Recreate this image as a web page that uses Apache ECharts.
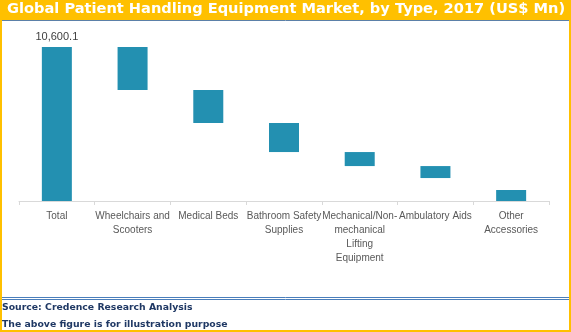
<!DOCTYPE html>
<html>
<head>
<meta charset="utf-8">
<script src="https://cdn.jsdelivr.net/npm/echarts@6/dist/echarts.min.js"></script>
<style>
html,body{margin:0;padding:0;background:#fff;}
#chart{width:571px;height:332px;}
</style>
</head>
<body>
<div id="chart"></div>
<script>
// ---- data ----
var titleText = 'Global Patient Handling Equipment Market, by Type, 2017 (US$ Mn)';
var categories = ['Total', 'Wheelchairs and\nScooters', 'Medical Beds', 'Bathroom Safety\nSupplies', 'Mechanical/Non-\nmechanical\nLifting\nEquipment', 'Ambulatory Aids', 'Other\nAccessories'];
var barValues = [10600.1, 2960, 2270, 2000, 965, 825, 757];   // visible height of each bar
var barBases  = [0, 7640, 5370, 3370, 2405, 1580, 0];          // invisible floor under each bar
var footerLines = ['Source: Credence Research Analysis', 'The above figure is for illustration purpose'];

var chart = echarts.init(document.getElementById('chart'), null, {renderer: 'canvas'});

var fmt = function (v) {
  return Number(v).toLocaleString('en-US', {minimumFractionDigits: 1, maximumFractionDigits: 1});
};

var valueData = barValues.map(function (v, i) {
  if (i === 0) {
    return {value: v, label: {show: true}};
  }
  return v;
});

var option = {
  animation: false,
  backgroundColor: '#ffffff',
  title: {
    text: titleText,
    left: 2,
    top: -3.5,
    textStyle: {
      fontFamily: 'DejaVu Sans',
      fontWeight: 'bold',
      fontSize: 14.6,
      color: '#ffffff'
    }
  },
  grid: {left: 19, right: 22, top: 26.7, bottom: 131, containLabel: false},
  xAxis: {
    type: 'category',
    data: categories,
    axisLine: {show: true, lineStyle: {color: '#D9D9D9', width: 1}},
    axisTick: {show: true, length: 4, lineStyle: {color: '#D9D9D9'}},
    axisLabel: {
      interval: 0,
      fontFamily: 'Liberation Sans',
      fontSize: 10,
      lineHeight: 14,
      color: '#595959',
      margin: 8
    }
  },
  yAxis: {
    type: 'value',
    min: 0,
    max: 12000,
    show: false,
    splitLine: {show: false}
  },
  series: [
    {
      type: 'bar',
      stack: 'wf',
      data: barBases,
      barWidth: 30,
      itemStyle: {color: 'rgba(0,0,0,0)'},
      emphasis: {disabled: true},
      silent: true
    },
    {
      type: 'bar',
      stack: 'wf',
      data: valueData,
      barWidth: 30,
      itemStyle: {color: '#2390B1'},
      label: {
        show: false,
        position: 'top',
        distance: 5,
        formatter: function (p) { return fmt(p.value); },
        fontFamily: 'Liberation Sans',
        fontSize: 11,
        color: '#404040'
      }
    }
  ],
  graphic: [
    {type: 'rect', shape: {x: 0, y: 0, width: 571, height: 20}, style: {fill: '#FFC000'}, z: -1},
    {type: 'line', shape: {x1: 0, y1: 20.5, x2: 571, y2: 20.5}, style: {stroke: '#5B80A8', lineWidth: 1}},
    {type: 'line', shape: {x1: 0, y1: 297.5, x2: 571, y2: 297.5}, style: {stroke: '#4A7EBB', lineWidth: 1}},
    {type: 'line', shape: {x1: 0, y1: 299.5, x2: 571, y2: 299.5}, style: {stroke: '#4A7EBB', lineWidth: 1}},
    {type: 'text', left: 2, top: 303, style: {text: footerLines[0], fill: '#1F3864', font: 'bold 9.3px "DejaVu Sans"'}},
    {type: 'text', left: 2, top: 320.5, style: {text: footerLines[1], fill: '#1F3864', font: 'bold 9.3px "DejaVu Sans"'}},
    {type: 'rect', shape: {x: 0, y: 0, width: 2, height: 332}, style: {fill: '#FFC000'}},
    {type: 'rect', shape: {x: 569, y: 0, width: 2, height: 332}, style: {fill: '#FFC000'}},
    {type: 'rect', shape: {x: 0, y: 330, width: 571, height: 2}, style: {fill: '#FFC000'}}
  ]
};

chart.setOption(option);
</script>
</body>
</html>
